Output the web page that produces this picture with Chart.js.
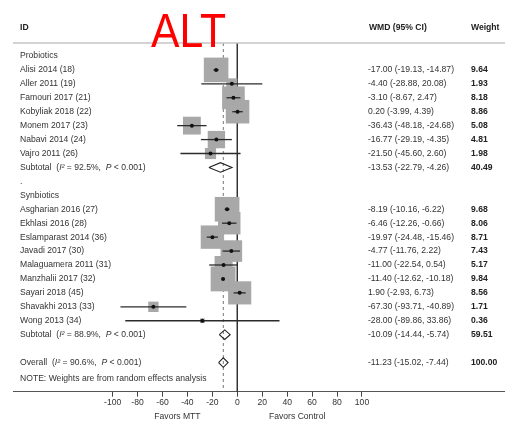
<!DOCTYPE html>
<html>
<head>
<meta charset="utf-8">
<script src="https://cdn.jsdelivr.net/npm/chart.js@4.4.0/dist/chart.umd.min.js"></script>
<style>
html, body { margin: 0; padding: 0; background: #fff; overflow: hidden; }
#wrap { position: relative; width: 505px; height: 421px; }
canvas { display: block; }
</style>
</head>
<body>
<div id="wrap"><canvas id="forest"></canvas></div>
<script>
// Probiotics studies
const proNames = ["Alisi 2014 (18)", "Aller 2011 (19)", "Famouri 2017 (21)", "Kobyliak 2018 (22)",
                  "Monem 2017 (23)", "Nabavi 2014 (24)", "Vajro 2011 (26)"];
const proEst = [-17.00, -4.40, -3.10, 0.20, -36.43, -16.77, -21.50];
const proLo  = [-19.13, -28.88, -8.67, -3.99, -48.18, -29.19, -45.60];
const proHi  = [-14.87, 20.08, 2.47, 4.39, -24.68, -4.35, 2.60];
const proW   = [9.64, 1.93, 8.18, 8.86, 5.08, 4.81, 1.98];
const proSub = { est: -13.53, lo: -22.79, hi: -4.26, w: 40.49, i2: "92.5%", p: "0.001" };

// Synbiotics studies
const synNames = ["Asgharian 2016 (27)", "Ekhlasi 2016 (28)", "Eslamparast 2014 (36)", "Javadi 2017 (30)",
                  "Malaguamera 2011 (31)", "Manzhalii 2017 (32)", "Sayari 2018 (45)", "Shavakhi 2013 (33)",
                  "Wong 2013 (34)"];
const synEst = [-8.19, -6.46, -19.97, -4.77, -11.00, -11.40, 1.90, -67.30, -28.00];
const synLo  = [-10.16, -12.26, -24.48, -11.76, -22.54, -12.62, -2.93, -93.71, -89.86];
const synHi  = [-6.22, -0.66, -15.46, 2.22, 0.54, -10.18, 6.73, -40.89, 33.86];
const synW   = [9.68, 8.06, 8.71, 7.43, 5.17, 9.84, 8.56, 1.71, 0.36];
const synSub = { est: -10.09, lo: -14.44, hi: -5.74, w: 59.51, i2: "88.9%", p: "0.001" };

const overall = { est: -11.23, lo: -15.02, hi: -7.44, w: 100.00, i2: "90.6%", p: "0.001" };

const xTicks = [-100, -80, -60, -40, -20, 0, 20, 40, 60, 80, 100];

// build rows (row index = position down the plot)
let rows = [];
let r = 0;
function addGroup(title, names, est, lo, hi, w, sub) {
    rows.push({ y: r++, label: title, kind: "head" });
    names.forEach((n, i) => {
        rows.push({ y: r++, label: n, kind: "study", est: est[i], lo: lo[i], hi: hi[i], w: w[i] });
    });
    rows.push({ y: r++, label: "Subtotal", kind: "sub", est: sub.est, lo: sub.lo, hi: sub.hi, w: sub.w, i2: sub.i2, p: sub.p });
}
addGroup("Probiotics", proNames, proEst, proLo, proHi, proW, proSub);
rows.push({ y: r++, label: ".", kind: "head" });
addGroup("Synbiotics", synNames, synEst, synLo, synHi, synW, synSub);
r++;
rows.push({ y: r++, label: "Overall", kind: "sub", est: overall.est, lo: overall.lo, hi: overall.hi, w: overall.w, i2: overall.i2, p: overall.p });
const noteRow = r + 0.15;

const studies = rows.filter(d => d.kind === "study");
const pooled = rows.filter(d => d.kind === "sub");

const fmt = v => v.toFixed(2);
const FONT = '"Liberation Sans", Arial, Helvetica, sans-serif';

let datasets = [];
// grey boxes, area ~ weight
datasets.push({
    type: "scatter",
    data: studies.map(d => ({ x: d.est, y: d.y })),
    pointStyle: "rect",
    pointRadius: studies.map(d => 5.6 * Math.sqrt(d.w)),
    backgroundColor: "#a8a8a8",
    borderWidth: 0,
    order: 5,
    clip: false
});
// confidence intervals
studies.forEach(d => {
    datasets.push({
        type: "scatter",
        data: [{ x: d.lo, y: d.y }, { x: d.hi, y: d.y }],
        showLine: true,
        borderColor: "#2b2b2b",
        borderWidth: 1.3,
        pointRadius: 0,
        order: 3,
        clip: false
    });
});
// point estimates
datasets.push({
    type: "scatter",
    data: studies.map(d => ({ x: d.est, y: d.y })),
    pointStyle: "circle",
    pointRadius: 2,
    backgroundColor: "#111",
    borderWidth: 0,
    order: 1
});
// pooled diamonds
pooled.forEach(d => {
    datasets.push({
        type: "scatter",
        data: [{ x: d.lo, y: d.y }, { x: d.est, y: d.y - 0.34 }, { x: d.hi, y: d.y },
               { x: d.est, y: d.y + 0.34 }, { x: d.lo, y: d.y }],
        showLine: true,
        borderColor: "#222",
        borderWidth: 1.1,
        backgroundColor: "#fff",
        fill: false,
        pointRadius: 0,
        order: 2
    });
});

const yTop = -0.93, yBottom = 24.09;
// null line and overall dashed line
datasets.push({
    type: "scatter",
    data: [{ x: 0, y: yTop }, { x: 0, y: yBottom }],
    showLine: true, borderColor: "#333", borderWidth: 1, pointRadius: 0, order: 6
});
datasets.push({
    type: "scatter",
    data: [{ x: overall.est, y: yTop }, { x: overall.est, y: yBottom }],
    showLine: true, borderColor: "#777", borderWidth: 1, borderDash: [3, 3], pointRadius: 0, order: 6
});

const textPlugin = {
    id: "forestText",
    afterDraw(chart) {
        const ctx = chart.ctx;
        const ys = chart.scales.y, xs = chart.scales.x;
        const area = chart.chartArea;
        ctx.save();
        ctx.textBaseline = "middle";
        ctx.textAlign = "left";

        // header
        const hy = ys.getPixelForValue(-2);
        ctx.fillStyle = "#222";
        ctx.font = "bold 8.6px " + FONT;
        ctx.fillText("ID", 20, hy);
        ctx.fillText("WMD (95% CI)", 369, hy);
        ctx.fillText("Weight", 471, hy);
        ctx.strokeStyle = "#c4c4c4";
        ctx.lineWidth = 1.5;
        ctx.beginPath();
        ctx.moveTo(area.left, area.top);
        ctx.lineTo(area.right, area.top);
        ctx.stroke();

        rows.forEach(d => {
            const py = ys.getPixelForValue(d.y);
            ctx.fillStyle = "#333";
            ctx.font = "8.6px " + FONT;
            if (d.kind === "sub") {
                let x = 20;
                const parts = [[d.label + "  (", false], ["I\u00b2", true], [" = " + d.i2 + ",  ", false],
                               ["P", true], [" < " + d.p + ")", false]];
                parts.forEach(p => {
                    ctx.font = (p[1] ? "italic " : "") + "8.6px " + FONT;
                    ctx.fillText(p[0], x, py);
                    x += ctx.measureText(p[0]).width;
                });
                ctx.font = "8.6px " + FONT;
            } else {
                ctx.fillText(d.label, 20, py);
            }
            if (d.kind !== "head") {
                ctx.fillText(fmt(d.est) + " (" + fmt(d.lo) + ", " + fmt(d.hi) + ")", 368, py);
                ctx.fillStyle = "#222";
                ctx.font = "bold 8.6px " + FONT;
                ctx.fillText(fmt(d.w), 471, py);
            }
        });

        ctx.fillStyle = "#333";
        ctx.font = "8.6px " + FONT;
        ctx.fillText("NOTE: Weights are from random effects analysis", 20, ys.getPixelForValue(noteRow));

        // axis side labels
        ctx.textAlign = "center";
        ctx.fillText("Favors MTT", xs.getPixelForValue(-48), area.bottom + 25);
        ctx.fillText("Favors Control", xs.getPixelForValue(48), area.bottom + 25);

        // big red title
        ctx.fillStyle = "#ff0000";
        ctx.textAlign = "left";
        ctx.textBaseline = "alphabetic";
        ctx.translate(151, 47);
        ctx.scale(0.89, 1);
        ctx.font = "48px " + FONT;
        ctx.fillText("ALT", 0, 0);
        ctx.restore();
    }
};

new Chart(document.getElementById("forest"), {
    data: { datasets: datasets },
    options: {
        responsive: true,
        maintainAspectRatio: false,
        animation: false,
        layout: { autoPadding: false, padding: { top: 43, left: 13, right: 0, bottom: 12 } },
        plugins: { legend: { display: false }, tooltip: { enabled: false } },
        scales: {
            x: {
                type: "linear",
                min: -179.9,
                max: 214.7,
                afterBuildTicks: scale => { scale.ticks = xTicks.map(v => ({ value: v })); },
                grid: { drawOnChartArea: false, drawTicks: true, tickLength: 5, color: "#444" },
                border: { display: true, color: "#555", width: 1 },
                ticks: { font: { size: 8.6, family: FONT }, color: "#333", padding: 1, maxRotation: 0, autoSkip: false }
            },
            y: {
                type: "linear",
                display: false,
                reverse: true,
                min: yTop,
                max: yBottom
            }
        }
    },
    plugins: [textPlugin]
});
</script>
</body>
</html>
